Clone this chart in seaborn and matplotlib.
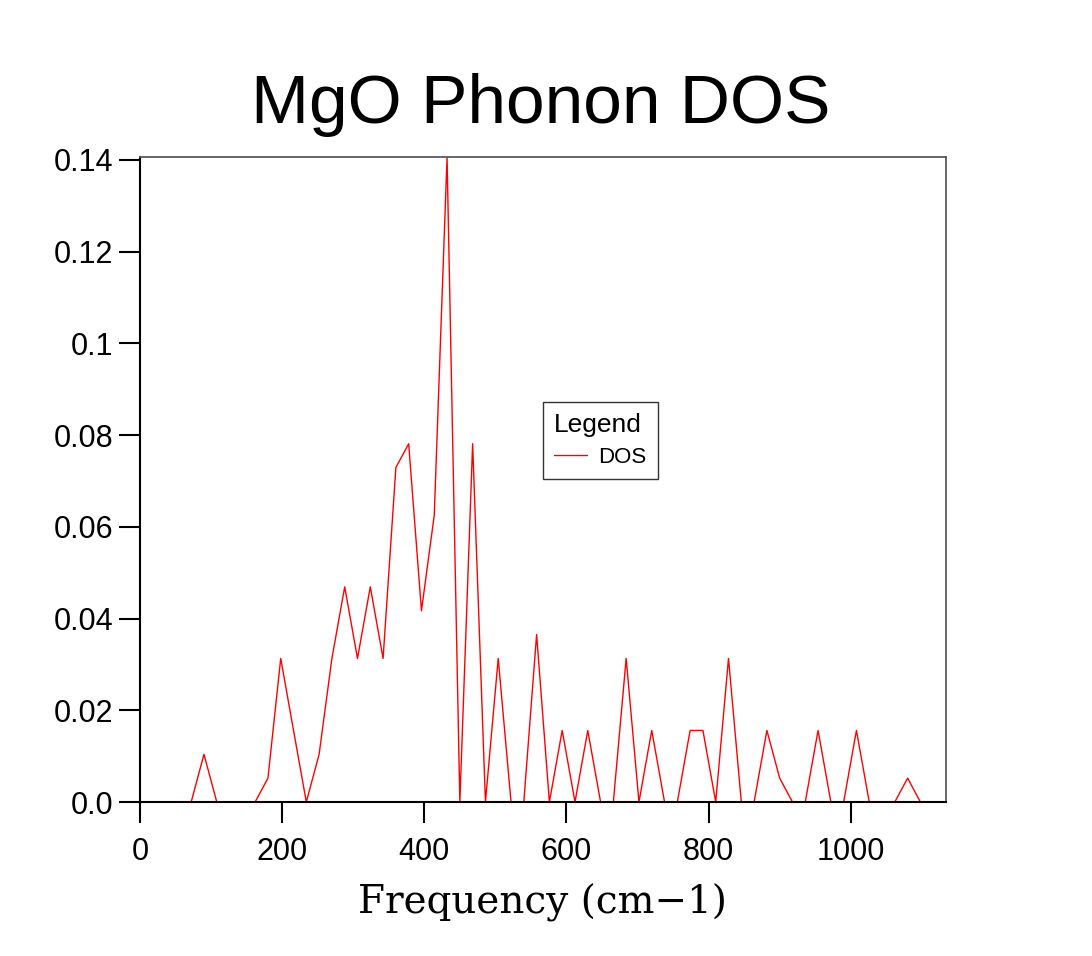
#!/usr/bin/env python3

import matplotlib
matplotlib.use("Agg")
import matplotlib.pyplot as plt
import pandas as pd
import seaborn as sns

# colors
LINE = "#ff0000"
FRAME = "#000000"
FRAME2 = "#5a5a5a"

# phonon frequencies (cm-1), grid
freq = [0, 18, 36, 54, 72, 90, 108, 126, 144, 162, 180, 198, 216, 234, 252, 270,
        288, 306, 324, 342, 360, 378, 396, 414, 432, 450, 468, 486, 504, 522, 540,
        558, 576, 594, 612, 630, 648, 666, 684, 702, 720, 738, 756, 774, 792, 810,
        828, 846, 864, 882, 900, 918, 936, 954, 972, 990, 1008, 1026, 1044, 1062,
        1080, 1098, 1116, 1134]

# density of states
dos = [0.0, 0.0, 0.0, 0.0, 0.0, 0.0104, 0.0, 0.0, 0.0, 0.0, 0.0052, 0.0313,
       0.0156, 0.0, 0.0104, 0.0313, 0.0469, 0.0313, 0.0469, 0.0313, 0.0729,
       0.0781, 0.0417, 0.0625, 0.1406, 0.0, 0.0781, 0.0, 0.0313, 0.0, 0.0,
       0.0365, 0.0, 0.0156, 0.0, 0.0156, 0.0, 0.0, 0.0313, 0.0, 0.0156, 0.0,
       0.0, 0.0156, 0.0156, 0.0, 0.0313, 0.0, 0.0, 0.0156, 0.0052, 0.0, 0.0,
       0.0156, 0.0, 0.0, 0.0156, 0.0, 0.0, 0.0, 0.0052, 0.0, 0.0, 0.0]

ytick_vals = [0.0, 0.02, 0.04, 0.06, 0.08, 0.1, 0.12, 0.14]
ytick_labels = ["0.0", "0.02", "0.04", "0.06", "0.08", "0.1", "0.12", "0.14"]
xtick_vals = [0, 200, 400, 600, 800, 1000]

df = pd.DataFrame({"Frequency": freq, "DOS": dos})

sns.set_style("white")
plt.rcParams.update({
    "font.family": ["Liberation Sans", "DejaVu Sans"],
    "text.color": "black",
    "axes.labelcolor": "black",
    "xtick.color": "black",
    "ytick.color": "black",
    "xtick.labelsize": 22,
    "ytick.labelsize": 22,
})

fig = plt.figure(figsize=(10.92, 9.56), dpi=100)
ax = fig.add_axes([140 / 1092, 1 - 802 / 956, 806 / 1092, 645 / 956])

sns.lineplot(data=df, x="Frequency", y="DOS", ax=ax, color=LINE, linewidth=1.0,
             label="DOS")

ax.set_xlim(0, max(freq))
ax.set_ylim(0, max(dos))
ax.set_xticks(xtick_vals)
ax.set_yticks(ytick_vals)
ax.set_yticklabels(ytick_labels)
ax.set_xlabel("")
ax.set_ylabel("")

for side in ["left", "bottom"]:
    ax.spines[side].set_color(FRAME)
    ax.spines[side].set_linewidth(1.5)
for side in ["top", "right"]:
    ax.spines[side].set_color(FRAME2)
    ax.spines[side].set_linewidth(1.3)

ax.tick_params(axis="both", direction="out", length=15, width=1.5, color=FRAME,
               left=True, bottom=True)
ax.tick_params(axis="y", pad=4)
ax.tick_params(axis="x", pad=10)

leg = ax.legend(title="Legend", loc="upper left", bbox_to_anchor=(0.5, 0.62),
                borderaxespad=0, fancybox=False, frameon=True, fontsize=16,
                title_fontsize=19, handlelength=1.5, alignment="left",
                borderpad=0.5, handletextpad=0.5, labelspacing=0.3)
leg.get_frame().set_edgecolor("#000000")
leg.get_frame().set_linewidth(1.0)
leg._legend_box.sep = 7  # gap between title and entry

fig.text(541 / 1092, 1 - 123 / 956, "MgO Phonon DOS", fontsize=50,
         ha="center", va="baseline", color="black")
fig.text(543 / 1092, 1 - 903 / 956, "Frequency (cm\u22121)", fontsize=28,
         family="DejaVu Serif", ha="center", va="center", color="black")

fig.savefig("out.png", dpi=100, facecolor="white")
